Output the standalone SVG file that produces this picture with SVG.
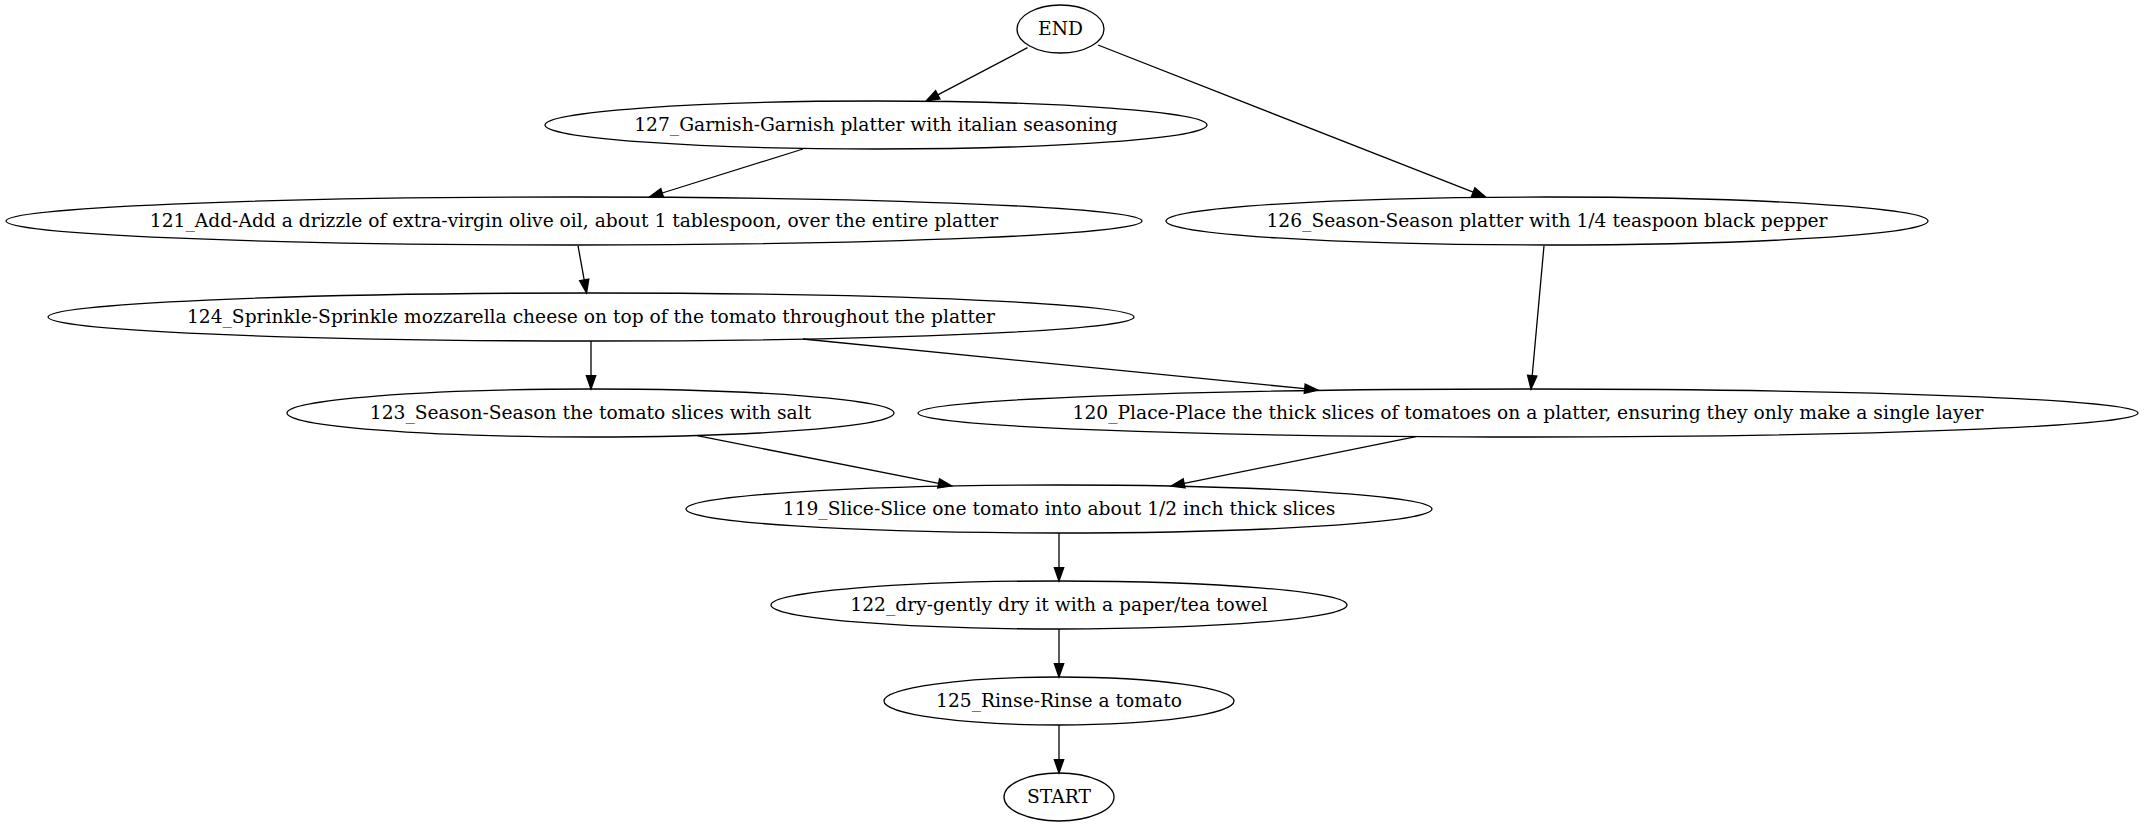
<svg xmlns="http://www.w3.org/2000/svg" width="2144" height="827" viewBox="0 0 2144 827">
<style>
.n ellipse{fill:none;stroke:#000;stroke-width:1.3}
.n text{font-family:"DejaVu Serif",serif;font-size:18.67px;text-anchor:middle;fill:#000}
.e path{fill:none;stroke:#000;stroke-width:1.3}
</style>
<defs>
<marker id="ah" markerUnits="userSpaceOnUse" markerWidth="16" markerHeight="12" refX="0" refY="4.67" orient="auto" overflow="visible">
<polygon points="0,0 13.33,4.67 0,9.33" fill="#000" stroke="#000" stroke-width="1.3"/>
</marker>
</defs>
<rect width="2144" height="827" fill="#fff"/>
<g id="edges" class="e">
<path d="M1027.5,47.7 L937.8,94.8" marker-end="url(#ah)"/>
<path d="M1098,45 L1473.2,192.1" marker-end="url(#ah)"/>
<path d="M803,149 L662.2,193" marker-end="url(#ah)"/>
<path d="M578,245.7 L584.2,279.9" marker-end="url(#ah)"/>
<path d="M591,341 L591,375.7" marker-end="url(#ah)"/>
<path d="M803,339 L1304.7,388.7" marker-end="url(#ah)"/>
<path d="M1544,245.7 L1532.2,375.7" marker-end="url(#ah)"/>
<path d="M697,435.7 L938.6,483.4" marker-end="url(#ah)"/>
<path d="M1416,436.7 L1184.1,483.4" marker-end="url(#ah)"/>
<path d="M1059,533 L1059,567.7" marker-end="url(#ah)"/>
<path d="M1059,629 L1059,663.7" marker-end="url(#ah)"/>
<path d="M1059,725 L1059,759.7" marker-end="url(#ah)"/>
</g>
<g id="END" class="n"><ellipse cx="1060.5" cy="29" rx="43.5" ry="24"/><text x="1060.5" y="35">END</text></g>
<g id="n127" class="n"><ellipse cx="876" cy="125" rx="331" ry="24"/><text x="876" y="131">127_Garnish-Garnish platter with italian seasoning</text></g>
<g id="n121" class="n"><ellipse cx="574" cy="221" rx="568" ry="24"/><text x="574" y="227">121_Add-Add a drizzle of extra-virgin olive oil, about 1 tablespoon, over the entire platter</text></g>
<g id="n126" class="n"><ellipse cx="1547" cy="221" rx="381" ry="24"/><text x="1547" y="227">126_Season-Season platter with 1/4 teaspoon black pepper</text></g>
<g id="n124" class="n"><ellipse cx="591" cy="317" rx="543" ry="24"/><text x="591" y="323">124_Sprinkle-Sprinkle mozzarella cheese on top of the tomato throughout the platter</text></g>
<g id="n123" class="n"><ellipse cx="590.5" cy="413" rx="303.5" ry="24"/><text x="590.5" y="419">123_Season-Season the tomato slices with salt</text></g>
<g id="n120" class="n"><ellipse cx="1528" cy="413" rx="610" ry="24"/><text x="1528" y="419">120_Place-Place the thick slices of tomatoes on a platter, ensuring they only make a single layer</text></g>
<g id="n119" class="n"><ellipse cx="1059" cy="509" rx="373" ry="24"/><text x="1059" y="515">119_Slice-Slice one tomato into about 1/2 inch thick slices</text></g>
<g id="n122" class="n"><ellipse cx="1059" cy="605" rx="288" ry="24"/><text x="1059" y="611">122_dry-gently dry it with a paper/tea towel</text></g>
<g id="n125" class="n"><ellipse cx="1059" cy="701" rx="175" ry="24"/><text x="1059" y="707">125_Rinse-Rinse a tomato</text></g>
<g id="START" class="n"><ellipse cx="1059" cy="797" rx="55" ry="24"/><text x="1059" y="803">START</text></g>
</svg>
